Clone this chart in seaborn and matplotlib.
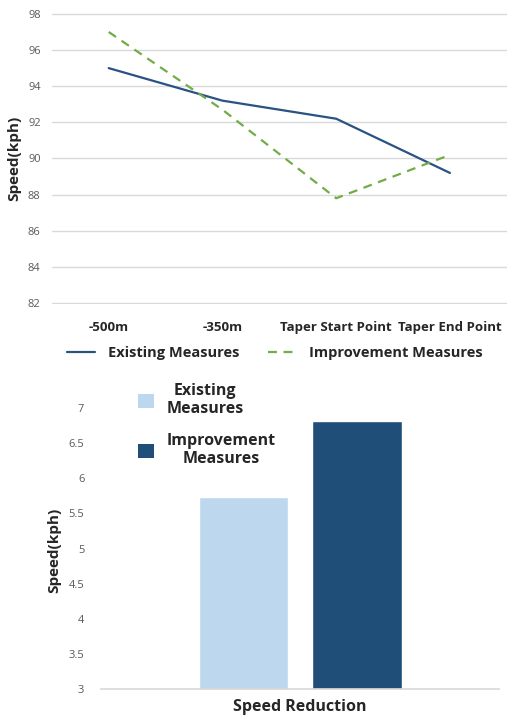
import numpy as np
import pandas as pd
from matplotlib import pyplot as plt
from matplotlib.patches import Patch
import seaborn as sns


POSITIONS = ['-500m', '-350m', 'Taper Start Point', 'Taper End Point']
EXISTING_SPEED = [95.0, 93.2, 92.2, 89.2]
IMPROVEMENT_SPEED = [97.0, 92.7, 87.8, 90.2]

SERIES = ['Existing Measures', 'Improvement Measures']
REDUCTION_CATEGORY = ['Speed Reduction']
REDUCTION = [5.74, 6.82]

LINE_COLORS = {'Existing Measures': '#2a5283', 'Improvement Measures': '#70ad47'}
BAR_COLORS = {'Existing Measures': '#bdd7ee', 'Improvement Measures': '#1f4e79'}


def build_frames():
    speeds = pd.DataFrame({
        'position': POSITIONS * 2,
        'speed': EXISTING_SPEED + IMPROVEMENT_SPEED,
        'series': [SERIES[0]] * len(POSITIONS) + [SERIES[1]] * len(POSITIONS),
    })
    reduction = pd.DataFrame({
        'category': REDUCTION_CATEGORY * 2,
        'value': REDUCTION,
        'series': SERIES,
    })
    return speeds, reduction


def plot_speeds(ax, speeds):
    sns.lineplot(
        data=speeds, x='position', y='speed', hue='series', style='series',
        palette=LINE_COLORS, dashes={SERIES[0]: '', SERIES[1]: (4, 3)},
        linewidth=1.6, ax=ax, sort=False,
    )
    ax.set_xlim(-0.5, 3.5)
    ax.set_ylim(81.95, 98.05)
    ax.set_yticks(np.arange(82, 99, 2))
    ax.grid(axis='y', color='#d9d9d9', linewidth=1)
    ax.grid(axis='x', visible=False)
    for spine in ax.spines.values():
        spine.set_visible(False)
    ax.tick_params(axis='both', length=0)
    ax.tick_params(axis='y', labelsize=8, labelcolor='#595959', pad=8)
    ax.tick_params(axis='x', labelsize=9.5, pad=12)
    for label in ax.get_xticklabels():
        label.set_fontweight('bold')
    ax.set_xlabel('')
    ax.set_ylabel('Speed(kph)', fontsize=11, fontweight='bold', labelpad=5)

    handles, labels = ax.get_legend_handles_labels()
    ax.legend(
        handles, labels, loc='upper center', bbox_to_anchor=(0.49, -0.1),
        ncol=2, frameon=False, prop={'size': 10.5, 'weight': 'bold'},
        handlelength=1.9, handletextpad=0.9, columnspacing=2.0,
    )


def plot_reduction(ax, reduction):
    sns.barplot(
        data=reduction, x='category', y='value', hue='series',
        palette=BAR_COLORS, saturation=1, width=0.57, gap=0.21, ax=ax,
        legend=False,
    )
    ax.set_xlim(-0.5, 0.5)
    ax.set_ylim(3, 7.4)
    ax.set_yticks(np.arange(3, 7.01, 0.5))
    ax.set_yticklabels([f'{v:g}' for v in np.arange(3, 7.01, 0.5)])
    ax.grid(False)
    for name in ['top', 'right', 'left']:
        ax.spines[name].set_visible(False)
    ax.spines['bottom'].set_color('#d9d9d9')
    ax.tick_params(axis='both', length=0)
    ax.tick_params(axis='y', labelsize=8, labelcolor='#595959', pad=12)
    ax.set_xticklabels([])
    ax.set_xlabel('Speed Reduction', fontsize=11.5, fontweight='bold', labelpad=4)
    ax.set_ylabel('Speed(kph)', fontsize=11, fontweight='bold', labelpad=2)
    ax.yaxis.set_label_coords(-0.1, 0.45)

    handles = [Patch(facecolor=BAR_COLORS[s], edgecolor='none') for s in SERIES]
    labels = ['Existing\nMeasures', 'Improvement\nMeasures']
    legend = ax.legend(
        handles, labels, loc='upper left', bbox_to_anchor=(0.06, 1.03),
        frameon=False, prop={'size': 11.5, 'weight': 'bold'},
        handlelength=1.0, handleheight=1.0, handletextpad=0.8,
        labelspacing=1.0, borderpad=0.3,
    )
    for text in legend.get_texts():
        text.set_multialignment('center')
        text.set_linespacing(1.15)


def main():
    sns.set_theme(style='white')
    plt.rcParams['font.family'] = ['Open Sans', 'DejaVu Sans']
    speeds, reduction = build_frames()

    fig = plt.figure(figsize=(5.13, 7.22), dpi=100)
    ax_top = fig.add_axes([0.101, 0.579, 0.887, 0.403])
    ax_bottom = fig.add_axes([0.197, 0.0457, 0.776, 0.428])
    plot_speeds(ax_top, speeds)
    plot_reduction(ax_bottom, reduction)
    fig.savefig('out.png', dpi=100)


if __name__ == '__main__':
    main()
